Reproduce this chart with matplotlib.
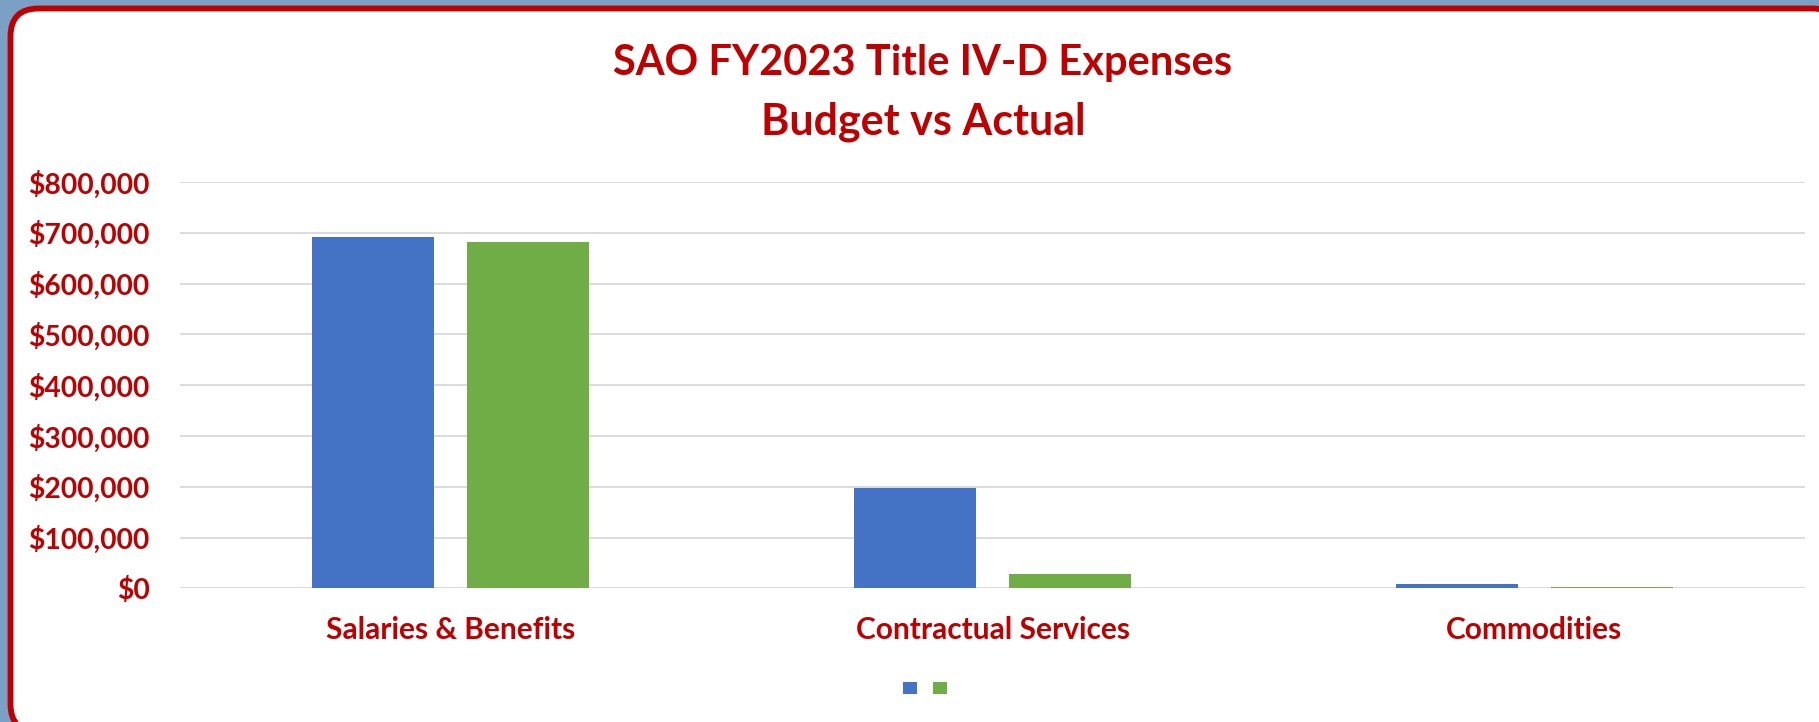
import numpy as np
import matplotlib
matplotlib.use('Agg')
import matplotlib.pyplot as plt
from matplotlib.patches import FancyBboxPatch, Patch
from matplotlib.ticker import FuncFormatter
from matplotlib.transforms import IdentityTransform

# chart data
categories = ['Salaries & Benefits', 'Contractual Services', 'Commodities']
budget = [691500, 198000, 8000]
actual = [681000, 27600, 2000]
y_ticks = [0, 100000, 200000, 300000, 400000, 500000, 600000, 700000, 800000]

RED = '#C00000'
BLUE = '#4472C4'
GREEN = '#70AD47'
GRID = '#D9D9D9'
OUTER = '#7BA0C5'

plt.rcParams['font.family'] = ['Lato', 'DejaVu Sans']

W, H = 1819, 722
fig = plt.figure(figsize=(W / 100, H / 100), dpi=100)
fig.patch.set_facecolor(OUTER)

# white rounded card with red border (pixel coords, origin bottom-left)
card = FancyBboxPatch((10.5, -10), 1830, H - 8 + 10 - 0.5,
                      boxstyle='round,pad=0,rounding_size=28',
                      facecolor='white', edgecolor=RED, linewidth=4.2,
                      transform=IdentityTransform(), zorder=-10)
fig.patches.append(card)

ax = fig.add_axes([180 / W, 1 - 588.3 / H, (1805 - 180) / W, (588.3 - 182) / H])
ax.set_facecolor('none')

x = np.arange(len(categories))
bw = 0.225
off = 0.143
ax.bar(x - off, budget, width=bw, color=BLUE, zorder=3)
ax.bar(x + off, actual, width=bw, color=GREEN, zorder=3)

ax.set_xlim(-0.5, len(categories) - 0.5)
ax.set_ylim(0, 800000)
ax.set_yticks(y_ticks)
ax.yaxis.set_major_formatter(FuncFormatter(lambda v, p: '${:,.0f}'.format(v)))
ax.set_xticks(x)
ax.set_xticklabels(categories)
ax.grid(axis='y', color=GRID, linewidth=1.3, zorder=0)
for s in ax.spines.values():
    s.set_visible(False)
ax.tick_params(axis='both', length=0)
ax.tick_params(axis='y', pad=22, labelsize=20.3, labelcolor=RED)
ax.tick_params(axis='x', pad=20, labelsize=21.5, labelcolor=RED)
for lab in ax.get_yticklabels() + ax.get_xticklabels():
    lab.set_fontweight('bold')

fig.text(923 / W, 1 - 75 / H, 'SAO FY2023 Title IV-D Expenses', ha='center', va='baseline',
         fontsize=30, fontweight='bold', color=RED)
fig.text(923 / W, 1 - 135 / H, 'Budget vs Actual', ha='center', va='baseline',
         fontsize=31, fontweight='bold', color=RED)

handles = [Patch(facecolor=BLUE), Patch(facecolor=GREEN)]
fig.legend(handles, ['', ''], loc='center', bbox_to_anchor=(925 / W, 1 - 688 / H),
           ncol=2, frameon=False, fontsize=10, handlelength=1, handleheight=1,
           handletextpad=0, columnspacing=1.15)

fig.savefig('out.png', dpi=100, facecolor=fig.get_facecolor())
